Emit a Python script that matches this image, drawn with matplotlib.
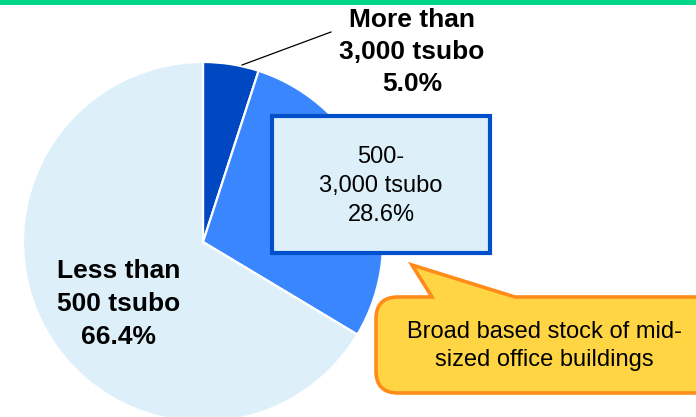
import matplotlib
matplotlib.use("Agg")
import matplotlib.pyplot as plt
from matplotlib.patches import Rectangle, PathPatch
from matplotlib.path import Path

# Office stock by building size (share of total floor area)
categories = ["More than\n3,000 tsubo", "500-\n3,000 tsubo", "Less than\n500 tsubo"]
shares = [5.0, 28.6, 66.4]
colors = ["#0047C2", "#3A86FF", "#DDF0FA"]
callout_text = "Broad based stock of mid-\nsized office buildings"

W, H = 696, 417
fig = plt.figure(figsize=(W / 100, H / 100), dpi=100)
ax = fig.add_axes([0, 0, 1, 1])
ax.set_xlim(0, W)
ax.set_ylim(0, H)
ax.set_aspect("equal")
ax.axis("off")

plt.rcParams["font.family"] = ["Liberation Sans", "DejaVu Sans"]


def Y(y):
    # convert a top-down pixel row to the axes' bottom-up coordinate
    return H - y


# green rule along the top edge
ax.add_patch(Rectangle((0, Y(5)), W, 6, facecolor="#00D68A", edgecolor="none", zorder=5))

# pie
ax.pie(shares, colors=colors, startangle=90, counterclock=False,
       center=(203, Y(242)), radius=180,
       wedgeprops=dict(edgecolor="white", linewidth=1.6))
ax.set_xlim(0, W)
ax.set_ylim(0, H)

# label for the smallest slice with a leader line
ax.plot([242, 331], [Y(65), Y(32)], color="black", lw=0.9, zorder=4)
ax.text(412, Y(52), f"{categories[0]}\n{shares[0]:.1f}%", ha="center", va="center",
        fontsize=19, fontweight="bold", linespacing=1.42, zorder=6)

# boxed label for the middle slice
ax.add_patch(Rectangle((272, Y(253)), 218, 137, facecolor="#DDF0FA",
                       edgecolor="#0050CC", linewidth=3.0, zorder=4))
ax.text(381, Y(186), f"{categories[1]}\n{shares[1]:.1f}%", ha="center", va="center",
        fontsize=17, linespacing=1.4, zorder=6)

# label inside the largest slice
ax.text(119, Y(304), f"{categories[2]}\n{shares[2]:.1f}%", ha="center", va="center",
        fontsize=19, fontweight="bold", linespacing=1.5, zorder=6)

# speech-bubble callout
x0, x1, y0, y1, r = 376, 730, 297, 393, 22
verts = [
    (x0 + r, Y(y0)),
    (432, Y(y0)), (412, Y(265)), (515, Y(y0)),
    (x1 - r, Y(y0)),
    (x1, Y(y0)), (x1, Y(y0 + r)),
    (x1, Y(y1 - r)),
    (x1, Y(y1)), (x1 - r, Y(y1)),
    (x0 + r, Y(y1)),
    (x0, Y(y1)), (x0, Y(y1 - r)),
    (x0, Y(y0 + r)),
    (x0, Y(y0)), (x0 + r, Y(y0)),
]
codes = [Path.MOVETO,
         Path.LINETO, Path.LINETO, Path.LINETO,
         Path.LINETO,
         Path.CURVE3, Path.CURVE3,
         Path.LINETO,
         Path.CURVE3, Path.CURVE3,
         Path.LINETO,
         Path.CURVE3, Path.CURVE3,
         Path.LINETO,
         Path.CURVE3, Path.CURVE3]
ax.add_patch(PathPatch(Path(verts, codes), facecolor="#FFD543", edgecolor="#FF8C1A",
                       linewidth=2.6, joinstyle="miter", zorder=4))
ax.text(544, Y(346), callout_text, ha="center", va="center", fontsize=17,
        linespacing=1.4, zorder=6)

fig.savefig("out.png", dpi=100)
